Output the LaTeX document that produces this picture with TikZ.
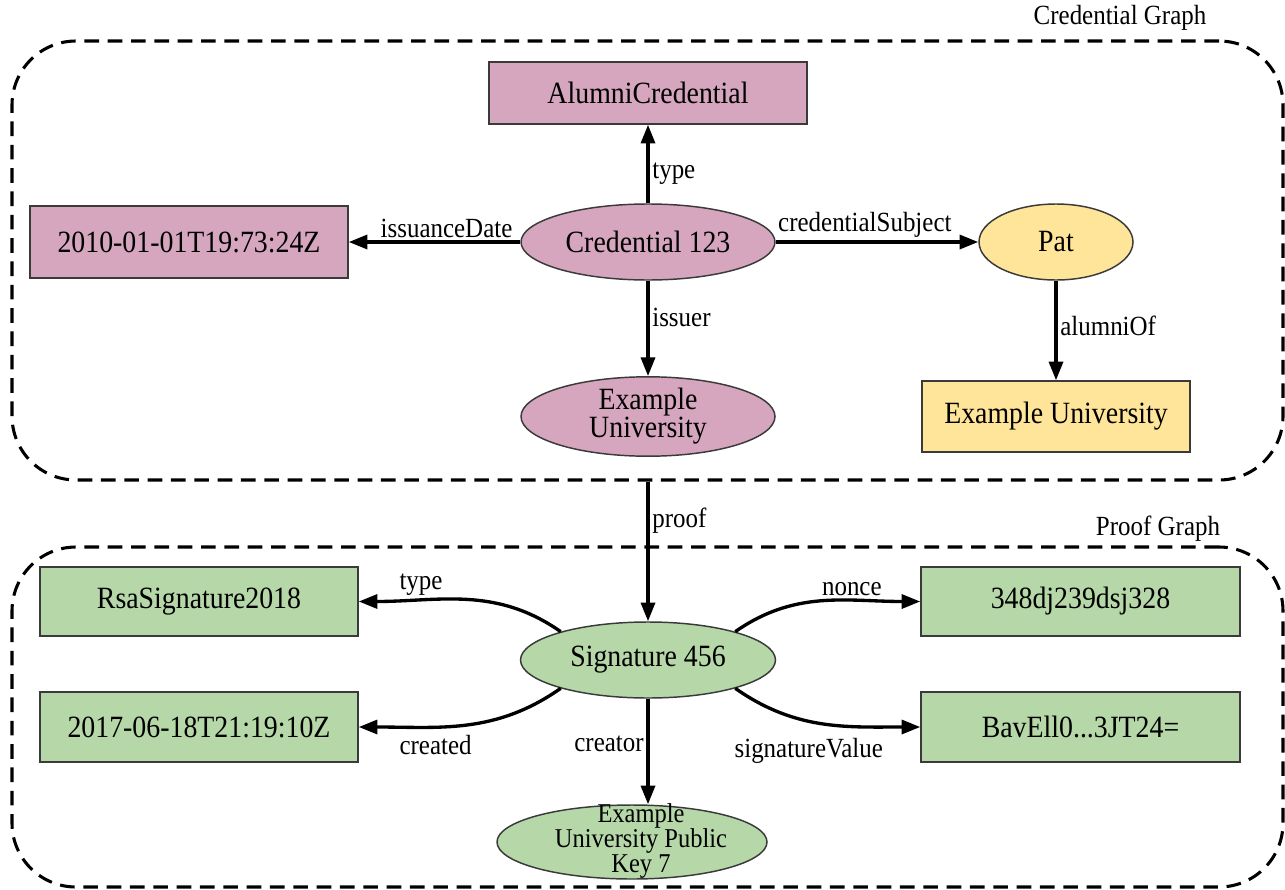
\documentclass[tikz,border=0pt]{standalone}
\usepackage{fontspec}
\setmainfont{Liberation Serif}[FakeStretch=0.9]
\usetikzlibrary{shapes.geometric,arrows.meta}

\definecolor{credpink}{HTML}{D5A6BD}
\definecolor{subjyellow}{HTML}{FFE599}
\definecolor{proofgreen}{HTML}{B6D7A8}
\definecolor{outline}{HTML}{3A3A3A}

\begin{document}
\begin{tikzpicture}[
  x=0.75pt, y=-0.75pt,
  cluster/.style={draw, line width=2.3pt, dash pattern=on 11pt off 6.5pt,
    rounded corners=48pt, inner sep=0pt},
  box/.style={draw=outline, line width=1.1pt, rectangle, inner sep=0pt,
    font=\fontsize{23.2pt}{21pt}\selectfont},
  oval/.style={draw=outline, line width=1.1pt, ellipse, inner sep=0pt,
    align=center, font=\fontsize{23.2pt}{21pt}\selectfont},
  link/.style={line width=2.5pt, -{Triangle[length=14pt,width=10.5pt]}},
  lbl/.style={font=\fontsize{20.8pt}{20pt}\selectfont, inner sep=2pt},
  keytext/.style={align=center, inner sep=0pt, font=\fontsize{20.4pt}{18.8pt}\selectfont}
]
\useasboundingbox (0,0) rectangle (1285,889);

% graph outlines
\node[cluster, minimum width=1271*0.75pt, minimum height=439*0.75pt] (credgraph) at (647.5,260.5) {};
\node[cluster, minimum width=1271*0.75pt, minimum height=340*0.75pt] (proofgraph) at (647.5,717) {};
\node[lbl] (credtitle) at (1120,18) {Credential Graph};
\node[lbl] (prooftitle) at (1158,529) {Proof Graph};

% credential graph
\node[box, fill=credpink, minimum width=318*0.75pt, minimum height=62*0.75pt] (alumni) at (648,93) {AlumniCredential};
\node[oval, fill=credpink, minimum width=254*0.75pt, minimum height=76*0.75pt] (cred) at (648,242) {Credential 123};
\node[box, fill=credpink, minimum width=318*0.75pt, minimum height=72*0.75pt] (issdate) at (189,242) {2010-01-01T19:73:24Z};
\node[oval, fill=credpink, minimum width=254*0.75pt, minimum height=77*0.75pt] (issuer) at (648,416.5) {Example\\University};
\node[oval, fill=subjyellow, minimum width=154*0.75pt, minimum height=76*0.75pt] (pat) at (1056,242) {Pat};
\node[box, fill=subjyellow, minimum width=268*0.75pt, minimum height=71*0.75pt] (eduni) at (1056,416.5) {Example University};

% proof graph
\node[oval, fill=proofgreen, minimum width=255*0.75pt, minimum height=76*0.75pt] (sig) at (648,660) {Signature 456};
\node[box, fill=proofgreen, minimum width=318*0.75pt, minimum height=69*0.75pt] (rsa) at (199,601.5) {RsaSignature2018};
\node[box, fill=proofgreen, minimum width=318*0.75pt, minimum height=70*0.75pt] (created) at (199,727) {2017-06-18T21:19:10Z};
\node[box, fill=proofgreen, minimum width=319*0.75pt, minimum height=69*0.75pt] (nonce) at (1080.5,601.5) {348dj239dsj328};
\node[box, fill=proofgreen, minimum width=319*0.75pt, minimum height=70*0.75pt] (sigval) at (1080.5,727) {BavEll0...3JT24=};
\node[oval, fill=proofgreen, minimum width=270*0.75pt, minimum height=74*0.75pt] (key) at (632,842) {};
\node[keytext] (keytxt) at (641,841) {Example\\University Public\\Key 7};

% credential edges
\draw[link] (cred) -- node[lbl, right, pos=0.375] (ltype) {type} (alumni);
\draw[link] (cred) -- node[lbl, above, pos=0.43] (ldate) {issuanceDate} (issdate);
\draw[link] (cred) -- node[lbl, above, pos=0.44] (lsubj) {credentialSubject} (pat);
\draw[link] (cred) -- node[lbl, right, pos=0.39] (liss) {issuer} (issuer);
\draw[link] (pat) -- node[lbl, right, pos=0.45] (lalum) {alumniOf} (eduni);

% proof link between the graphs
\draw[link] (credgraph.south -| sig.north) -- node[lbl, right, pos=0.28] (lproof) {proof} (sig.north);

% proof edges
\draw[link] (sig.162) to[out=145, in=0] node[lbl, above, pos=0.72] (lptype) {type} (rsa.east);
\draw[link] (sig.198) to[out=215, in=0] node[lbl, below, pos=0.65, yshift=-3pt] (lcreated) {created} (created.east);
\draw[link] (sig.18) to[out=35, in=180] node[lbl, above, pos=0.66] (lnonce) {nonce} (nonce.west);
\draw[link] (sig.342) to[out=325, in=180] node[lbl, below, pos=0.42, yshift=-10pt] (lsigval) {signatureValue} (sigval.west);
\draw[link] (sig.south) -- node[lbl, left, pos=0.43] (lcreator) {creator} (sig.south |- key.north);
\end{tikzpicture}
\end{document}
